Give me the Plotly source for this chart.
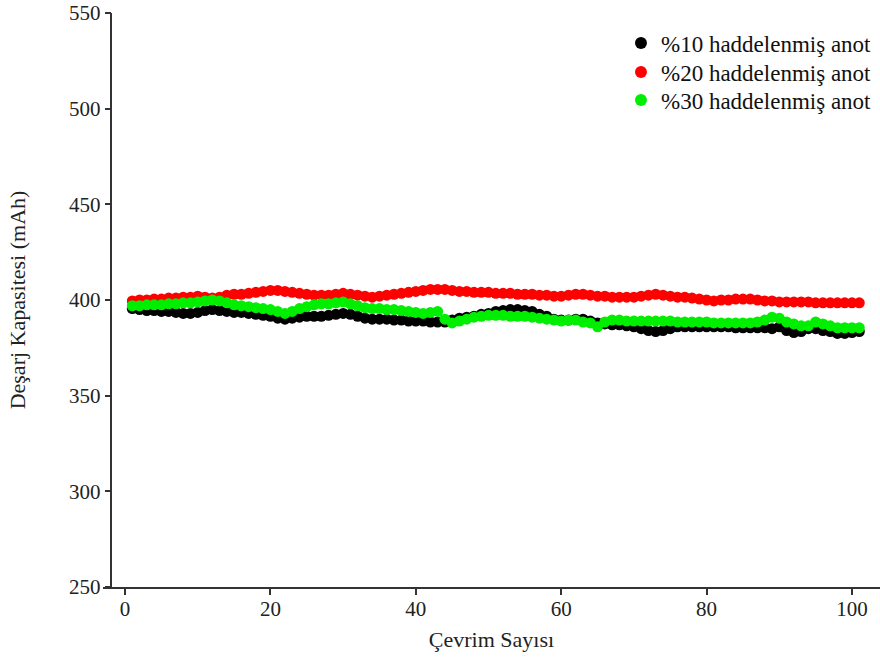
import plotly.graph_objects as go

cycles = list(range(1, 102))

anot10 = [395.5, 395, 394.5, 394.5, 394,
          394, 393.5, 393, 393, 393.5,
          394.5, 395, 394.5, 394, 393.5,
          393.5, 393, 392.5, 392, 391.5,
          390.5, 390, 390.5, 391, 391.5,
          391.5, 391.5, 392, 392.5, 393,
          392.5, 391.5, 390.5, 390, 390,
          390, 389.5, 389.5, 389, 389,
          389, 388.5, 388.5, 388.5, 389.5,
          390.5, 391, 391.5, 392.5, 393,
          394, 394.5, 395, 395, 394.5,
          394, 392.5, 391.5, 390, 389.5,
          389.5, 390, 390, 389, 388,
          387.5, 387, 387, 386.5, 386,
          385, 384, 383.5, 384, 385,
          386, 386, 386, 386, 386,
          386, 386, 386, 385.5, 385.5,
          385.5, 385.5, 385.5, 385, 386,
          384, 383, 383.5, 385, 385,
          384, 383.5, 382.5, 382.5, 383, 383.5]

anot20 = [399.5, 400, 400, 400.5, 400.5,
          401, 401, 401.5, 401.5, 402,
          401.5, 401, 401.5, 402.5, 403,
          403, 403.5, 404, 404.5, 405,
          405, 404.5, 404, 403.5, 403,
          402.5, 402.5, 402.5, 403, 403.5,
          403, 402.5, 402, 401.5, 402,
          402.5, 403, 403.5, 404, 404.5,
          405, 405.5, 405.5, 405.5, 405,
          404.5, 404.5, 404, 404, 404,
          403.5, 403.5, 403.5, 403, 403,
          403, 402.5, 402.5, 402, 402,
          402.5, 403, 403, 402.5, 402,
          402, 401.5, 401.5, 401.5, 401.5,
          402, 402.5, 403, 402.5, 402,
          401.5, 401.5, 401, 400.5, 400,
          399.5, 400, 400, 400.5, 400.5,
          400.5, 400, 399.5, 399.5, 399,
          399, 399, 399, 399, 398.5,
          398.5, 398.5, 398.5, 398.5, 398.5, 398.5]

anot30 = [397, 397, 397.5, 397.5, 397.5,
          398, 398, 398.5, 398.5, 399,
          399.5, 400, 399.5, 398.5, 397.5,
          397, 396.5, 396, 395.5, 395,
          394, 393, 394, 395.5, 396.5,
          397.5, 398, 398, 398.5, 399,
          398, 397, 396, 395.5, 395.5,
          395, 395, 394.5, 394, 393.5,
          393, 393.5, 394, 390, 388,
          389, 390, 391, 391.5, 392,
          392, 392, 391.5, 391.5, 391.5,
          391, 390.5, 390, 389.5, 389,
          389.5, 389.5, 388.5, 388, 386,
          388.5, 389.5, 389.5, 389, 389,
          389, 389, 389, 389, 389,
          388.5, 388.5, 388.5, 388.5, 388.5,
          388, 388, 388, 388, 388,
          388, 388.5, 389.5, 391, 390.5,
          388.5, 387.5, 386.5, 386.5, 388.5,
          387.5, 386.5, 385.5, 385.5, 385.5, 385.5]

series_names = ["%10 haddelenmiş anot", "%20 haddelenmiş anot", "%30 haddelenmiş anot"]
series_values = [anot10, anot20, anot30]
series_colors = ["#000000", "#ff0000", "#00ee00"]

y_ticks = [250, 300, 350, 400, 450, 500, 550]
x_ticks = [0, 20, 40, 60, 80, 100]

FONT = "Liberation Serif"
legend_ids = ["legend", "legend2", "legend3"]
legend_y = [0.9477, 0.8972, 0.8484]

fig = go.Figure()
for i, (name, vals, col) in enumerate(zip(series_names, series_values, series_colors)):
    fig.add_trace(go.Scatter(
        x=cycles, y=vals, mode="markers", name=name,
        legend=legend_ids[i],
        marker=dict(color=col, size=11, line=dict(width=0)),
    ))

leg_common = dict(
    x=0.9961, xanchor="right", yanchor="middle",
    font=dict(family=FONT, size=23, color="#111111"),
    bgcolor="rgba(0,0,0,0)", itemsizing="constant",
)

fig.update_layout(
    width=880, height=666,
    margin=dict(l=103, r=0, t=13, b=79),
    plot_bgcolor="white", paper_bgcolor="white",
    font=dict(family=FONT, size=20, color="#222222"),
    showlegend=True,
    legend=dict(y=legend_y[0], **leg_common),
    legend2=dict(y=legend_y[1], **leg_common),
    legend3=dict(y=legend_y[2], **leg_common),
    xaxis=dict(
        range=[-3.03, 103.85], tickvals=x_ticks,
        showgrid=False, zeroline=False,
        showline=True, linecolor="#333333", linewidth=1.5,
        ticks="outside", ticklen=6, tickwidth=1.5, tickcolor="#333333",
        tickfont=dict(family=FONT, size=21, color="#222222"),
        ticklabelstandoff=-4,
        title=dict(text="Çevrim Sayısı", font=dict(family=FONT, size=22, color="#222222"), standoff=12),
    ),
    yaxis=dict(
        range=[250, 550], tickvals=y_ticks,
        anchor="free", position=0.0109,
        showgrid=False, zeroline=False,
        showline=True, linecolor="#333333", linewidth=1.5,
        ticks="outside", ticklen=6, tickwidth=1.5, tickcolor="#333333",
        tickfont=dict(family=FONT, size=21, color="#222222"),
        title=dict(text="Deşarj Kapasitesi (mAh)", font=dict(family=FONT, size=22, color="#222222"), standoff=36),
    ),
)

fig.write_html("out.html")
